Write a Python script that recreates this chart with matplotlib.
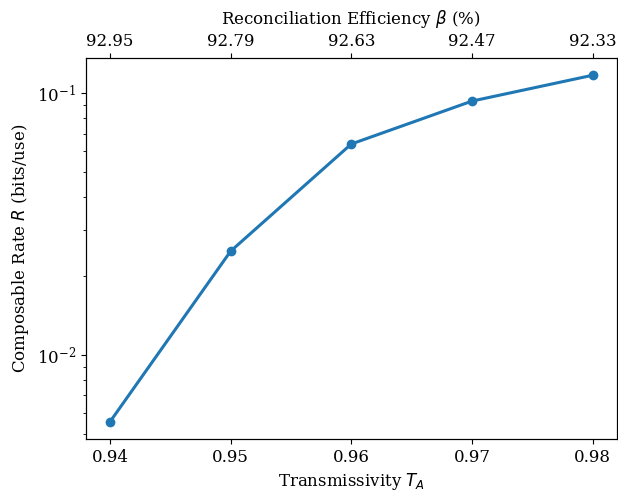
import numpy as np
import matplotlib.pyplot as plt

plt.rcParams['font.family'] = 'DejaVu Serif'
plt.rcParams['font.size'] = 12

# data
transmissivity = [0.94, 0.95, 0.96, 0.97, 0.98]
rate = [0.00555, 0.0249, 0.0639, 0.0932, 0.117]
beta_labels = ['92.95', '92.79', '92.63', '92.47', '92.33']

fig, ax = plt.subplots(figsize=(6.18, 4.95), dpi=100)
ax.plot(transmissivity, rate, 'o-', color='#1f77b4', linewidth=2.2, markersize=6)
ax.set_yscale('log')
ax.set_xticks(transmissivity)
ax.set_xlabel(r'Transmissivity $T_A$')
ax.set_ylabel(r'Composable Rate $R$ (bits/use)')

ax2 = ax.twiny()
ax2.set_xlim(ax.get_xlim())
ax2.set_xticks(transmissivity)
ax2.set_xticklabels(beta_labels)
ax2.tick_params(axis='x', pad=2)
ax2.set_xlabel(r'Reconciliation Efficiency $\beta$ (%)', labelpad=7)

fig.subplots_adjust(left=0.139, right=0.998, bottom=0.113, top=0.883)
fig.savefig('out.png', dpi=100)
